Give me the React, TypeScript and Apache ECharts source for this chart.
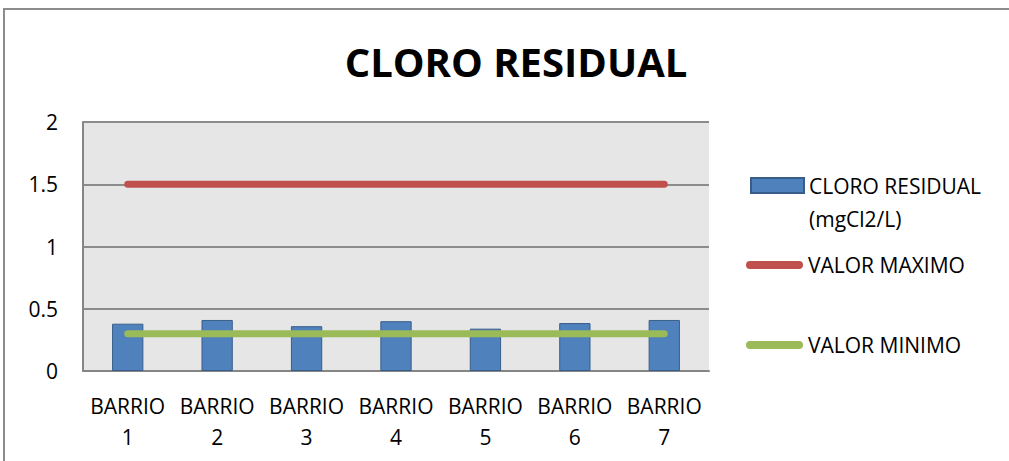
import React, { useEffect, useRef } from "react";
import * as echarts from "echarts";

const categories = ["BARRIO\n1", "BARRIO\n2", "BARRIO\n3", "BARRIO\n4", "BARRIO\n5", "BARRIO\n6", "BARRIO\n7"];
const cloroResidual = [0.38, 0.41, 0.36, 0.4, 0.34, 0.385, 0.41];
const valorMaximo = [1.5, 1.5, 1.5, 1.5, 1.5, 1.5, 1.5];
const valorMinimo = [0.3, 0.3, 0.3, 0.3, 0.3, 0.3, 0.3];
const yTicks = { min: 0, max: 2, interval: 0.5 };

const FONT = "'Open Sans', sans-serif";
const pill = "path://M4 0H53A4 4 0 0 1 53 8H4A4 4 0 0 1 4 0Z";

export default function App() {
  const ref = useRef<HTMLDivElement>(null);
  useEffect(() => {
    document.body.style.margin = "0";
    const chart = echarts.init(ref.current!, null, { renderer: "svg" });
    chart.setOption({
      animation: false,
      backgroundColor: "#ffffff",
      textStyle: { fontFamily: FONT },
      title: {
        text: "CLORO RESIDUAL",
        left: 511,
        top: 56,
        textAlign: "center",
        textVerticalAlign: "middle",
        textStyle: { fontFamily: FONT, fontWeight: "bold", fontSize: 40, color: "#000" },
      },
      graphic: [
        {
          type: "rect",
          shape: { x: 4, y: 9, width: 1100, height: 500 },
          style: { fill: "none", stroke: "#8c8c8c", lineWidth: 2 },
          silent: true,
        },
      ],
      legend: [
        {
          data: ["CLORO RESIDUAL\n(mgCl2/L)"],
          left: 750,
          top: 136,
          padding: 0,
          itemWidth: 53,
          itemHeight: 15,
          icon: "rect",
          formatter: (name: string) => "\n" + name,
          textStyle: { fontFamily: FONT, fontSize: 21, color: "#000", lineHeight: 33 },
        },
        {
          data: ["VALOR MAXIMO"],
          left: 746,
          top: 253,
          padding: 0,
          itemWidth: 57,
          itemHeight: 8,
          icon: pill,
          textStyle: { fontFamily: FONT, fontSize: 21, color: "#000", lineHeight: 24 },
        },
        {
          data: ["VALOR MINIMO"],
          left: 746,
          top: 333,
          padding: 0,
          itemWidth: 57,
          itemHeight: 8,
          icon: pill,
          textStyle: { fontFamily: FONT, fontSize: 21, color: "#000", lineHeight: 24 },
        },
      ],
      grid: {
        left: 83,
        top: 122,
        width: 626,
        height: 249,
        show: true,
        backgroundColor: "#e6e6e6",
        borderWidth: 0,
      },
      xAxis: {
        type: "category",
        data: categories,
        axisTick: { show: false },
        axisLine: { show: true, lineStyle: { color: "#868686", width: 2 } },
        axisLabel: {
          fontFamily: FONT,
          fontSize: 21,
          color: "#000",
          lineHeight: 31,
          margin: 19,
          interval: 0,
        },
      },
      yAxis: {
        type: "value",
        min: yTicks.min,
        max: yTicks.max,
        interval: yTicks.interval,
        axisTick: { show: false },
        axisLine: { show: true, lineStyle: { color: "#868686", width: 2 } },
        splitLine: { show: true, lineStyle: { color: "#8c8c8c", width: 2 } },
        axisLabel: {
          fontFamily: FONT,
          fontSize: 21,
          color: "#000",
          margin: 25,
          formatter: (v: number) => String(v),
        },
      },
      series: [
        {
          name: "CLORO RESIDUAL\n(mgCl2/L)",
          type: "bar",
          data: cloroResidual,
          barWidth: "35%",
          itemStyle: { color: "#4f81bd", borderColor: "#385d8a", borderWidth: 1 },
          z: 2,
        },
        {
          name: "VALOR MAXIMO",
          type: "line",
          data: valorMaximo,
          symbol: "none",
          itemStyle: { color: "#c0504d" },
          lineStyle: { color: "#c0504d", width: 7, cap: "round" },
          z: 3,
        },
        {
          name: "VALOR MINIMO",
          type: "line",
          data: valorMinimo,
          symbol: "none",
          itemStyle: { color: "#9bbb59" },
          lineStyle: { color: "#9bbb59", width: 7, cap: "round" },
          z: 3,
        },
      ],
    });
    return () => chart.dispose();
  }, []);
  return <div ref={ref} style={{ width: 1009, height: 461 }} />;
}
